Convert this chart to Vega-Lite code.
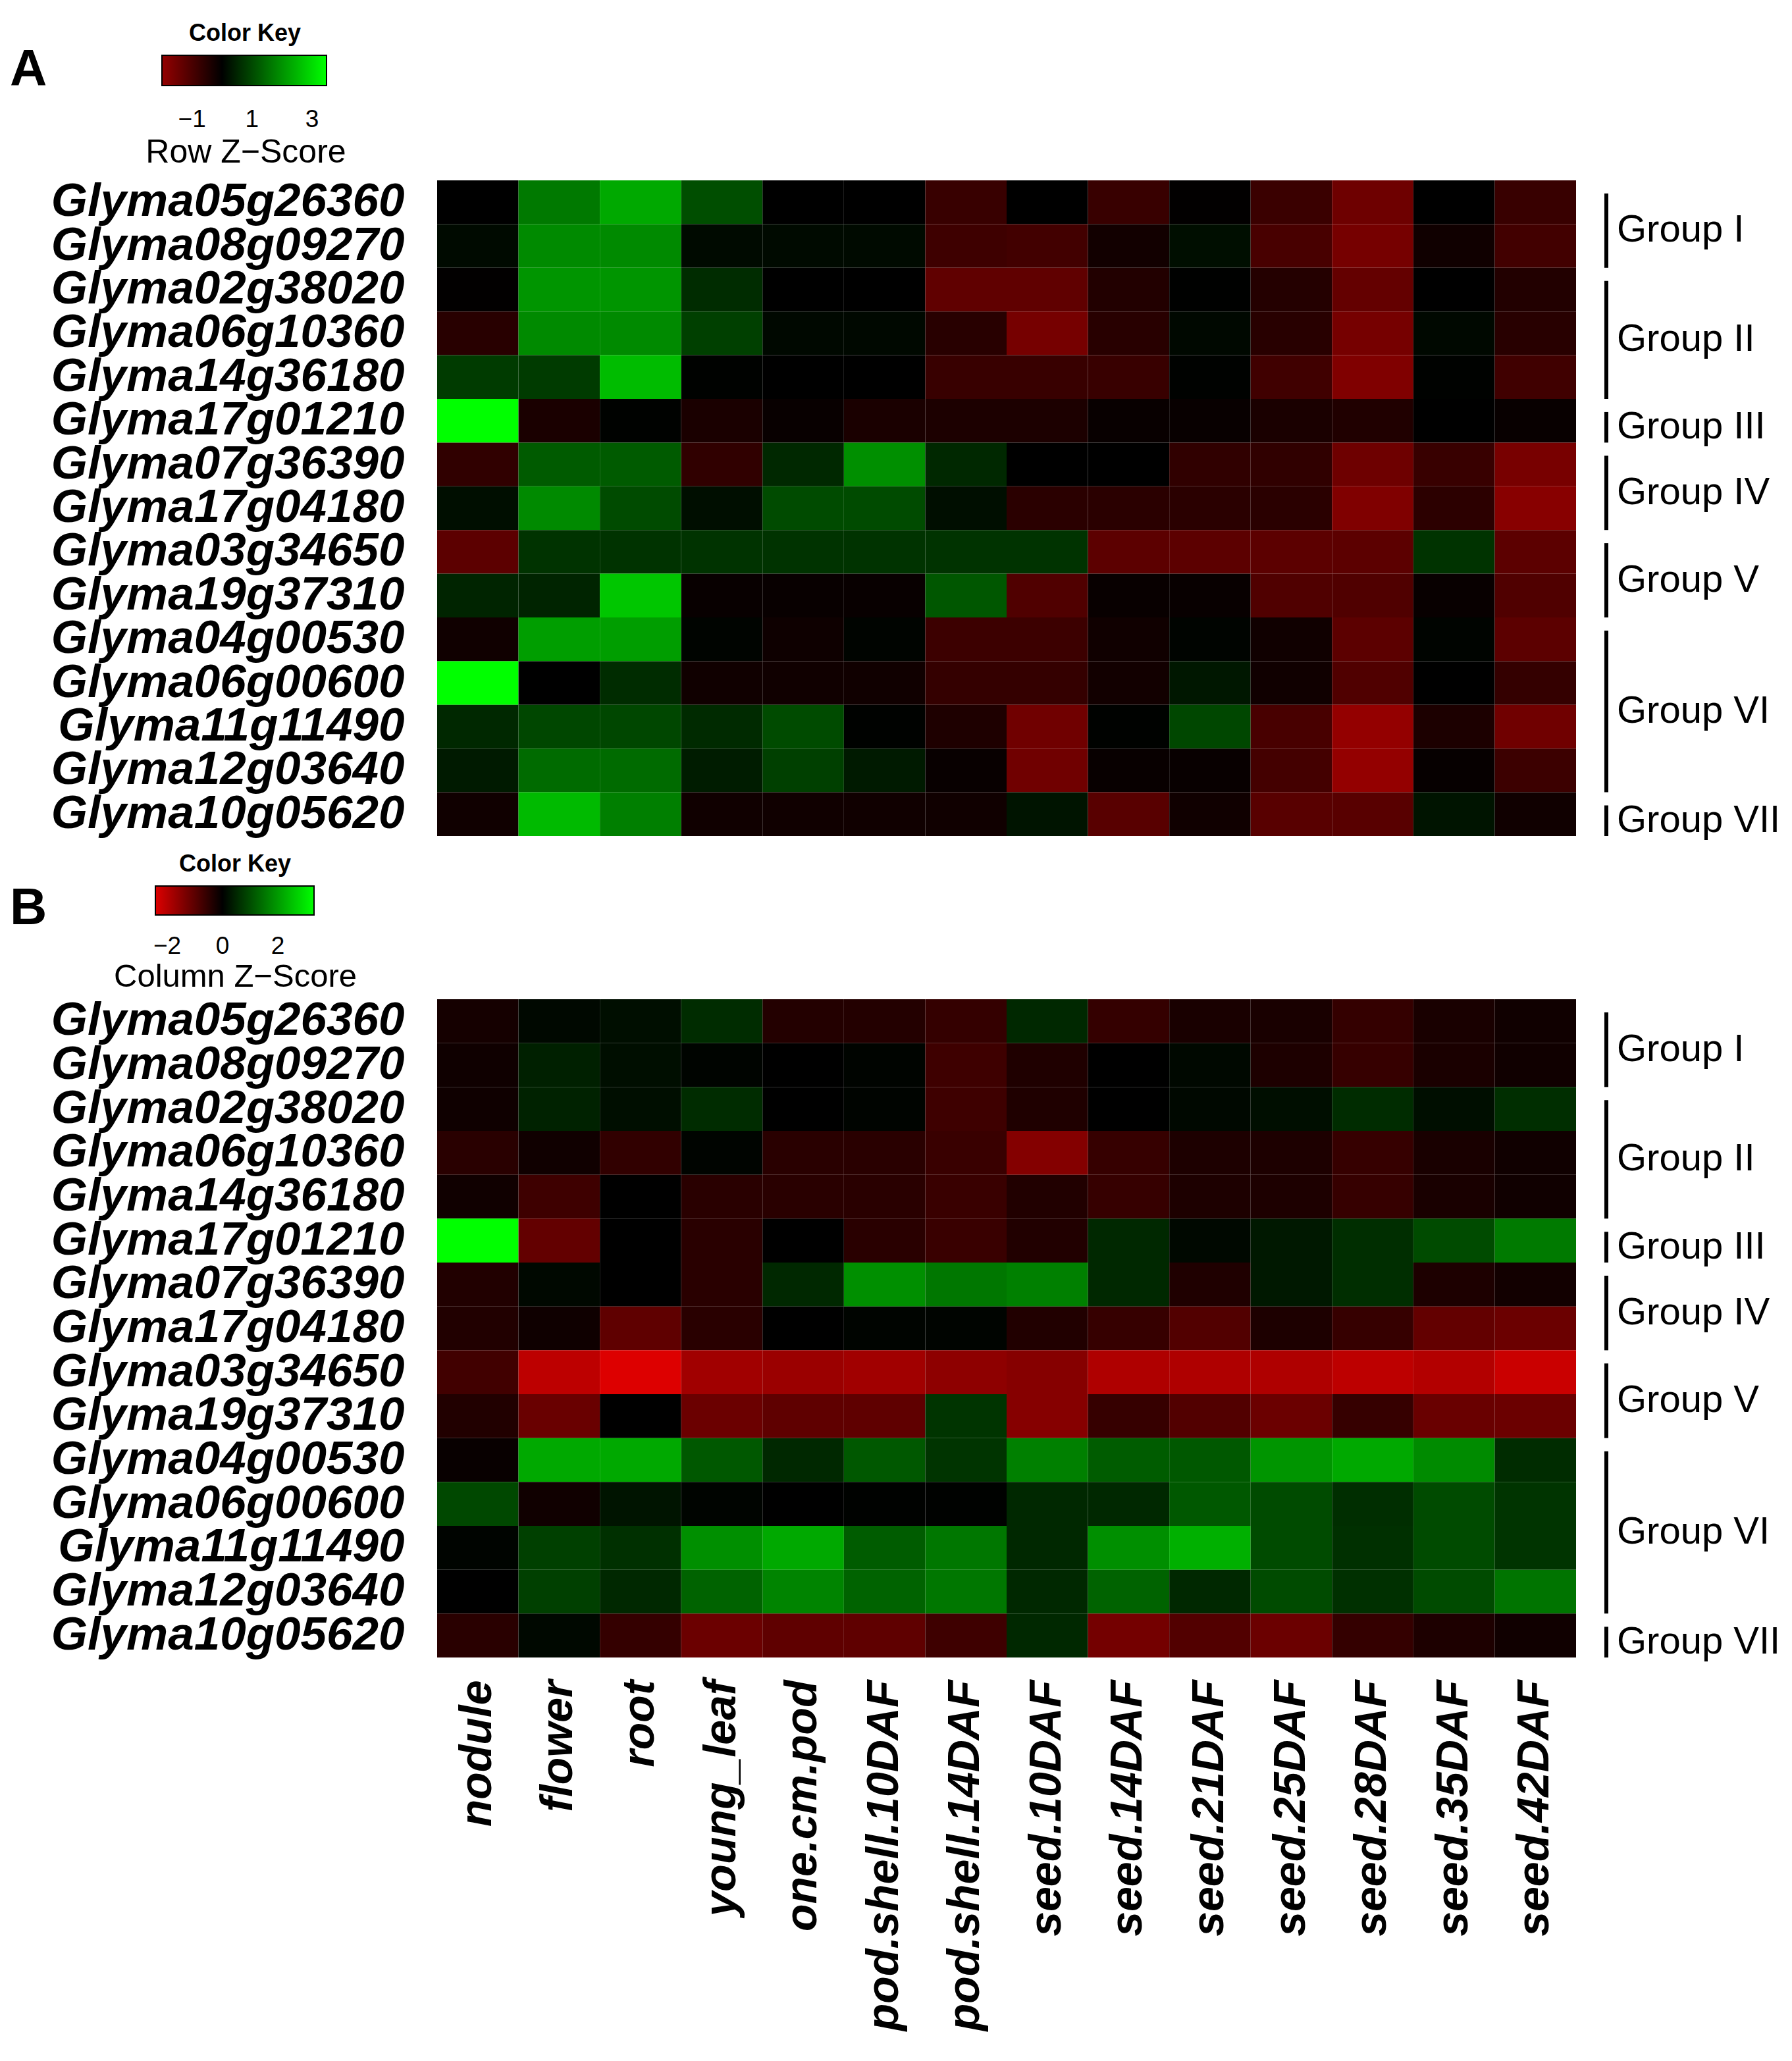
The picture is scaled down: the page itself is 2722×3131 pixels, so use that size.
{
  "$schema": "https://vega.github.io/schema/vega-lite/v6.json",
  "background": "white",
  "padding": {"left": 15, "top": 34, "right": 10, "bottom": 20},
  "config": {"view": {"stroke": null}, "font": "Liberation Sans"},
  "datasets": {
    "groups": [
      {"group": "Group I", "first": "Glyma05g26360", "last": "Glyma08g09270", "midGene": "Glyma05g26360", "rows": 2},
      {"group": "Group II", "first": "Glyma02g38020", "last": "Glyma14g36180", "midGene": "Glyma06g10360", "rows": 3},
      {"group": "Group III", "first": "Glyma17g01210", "last": "Glyma17g01210", "midGene": "Glyma17g01210", "rows": 1},
      {"group": "Group IV", "first": "Glyma07g36390", "last": "Glyma17g04180", "midGene": "Glyma07g36390", "rows": 2},
      {"group": "Group V", "first": "Glyma03g34650", "last": "Glyma19g37310", "midGene": "Glyma03g34650", "rows": 2},
      {"group": "Group VI", "first": "Glyma04g00530", "last": "Glyma12g03640", "midGene": "Glyma06g00600", "rows": 4},
      {"group": "Group VII", "first": "Glyma10g05620", "last": "Glyma10g05620", "midGene": "Glyma10g05620", "rows": 1}
    ],
    "rowz": [
      {"gene":"Glyma05g26360","tissue":"nodule","z":0},{"gene":"Glyma05g26360","tissue":"flower","z":1.65},{"gene":"Glyma05g26360","tissue":"root","z":2.30},{"gene":"Glyma05g26360","tissue":"young_leaf","z":1.06},{"gene":"Glyma05g26360","tissue":"one.cm.pod","z":0},{"gene":"Glyma05g26360","tissue":"pod.shell.10DAF","z":0},{"gene":"Glyma05g26360","tissue":"pod.shell.14DAF","z":-0.76},{"gene":"Glyma05g26360","tissue":"seed.10DAF","z":0},{"gene":"Glyma05g26360","tissue":"seed.14DAF","z":-0.76},{"gene":"Glyma05g26360","tissue":"seed.21DAF","z":-0.03},{"gene":"Glyma05g26360","tissue":"seed.25DAF","z":-0.78},{"gene":"Glyma05g26360","tissue":"seed.28DAF","z":-1.49},{"gene":"Glyma05g26360","tissue":"seed.35DAF","z":0},{"gene":"Glyma05g26360","tissue":"seed.42DAF","z":-0.76},
      {"gene":"Glyma08g09270","tissue":"nodule","z":0.14},{"gene":"Glyma08g09270","tissue":"flower","z":1.89},{"gene":"Glyma08g09270","tissue":"root","z":1.89},{"gene":"Glyma08g09270","tissue":"young_leaf","z":0.14},{"gene":"Glyma08g09270","tissue":"one.cm.pod","z":0.14},{"gene":"Glyma08g09270","tissue":"pod.shell.10DAF","z":0.14},{"gene":"Glyma08g09270","tissue":"pod.shell.14DAF","z":-0.84},{"gene":"Glyma08g09270","tissue":"seed.10DAF","z":-0.89},{"gene":"Glyma08g09270","tissue":"seed.14DAF","z":-0.24},{"gene":"Glyma08g09270","tissue":"seed.21DAF","z":0.19},{"gene":"Glyma08g09270","tissue":"seed.25DAF","z":-0.97},{"gene":"Glyma08g09270","tissue":"seed.28DAF","z":-1.6},{"gene":"Glyma08g09270","tissue":"seed.35DAF","z":-0.22},{"gene":"Glyma08g09270","tissue":"seed.42DAF","z":-0.89},
      {"gene":"Glyma02g38020","tissue":"nodule","z":-0.03},{"gene":"Glyma02g38020","tissue":"flower","z":2.03},{"gene":"Glyma02g38020","tissue":"root","z":2.03},{"gene":"Glyma02g38020","tissue":"young_leaf","z":0.6},{"gene":"Glyma02g38020","tissue":"one.cm.pod","z":0},{"gene":"Glyma02g38020","tissue":"pod.shell.10DAF","z":0},{"gene":"Glyma02g38020","tissue":"pod.shell.14DAF","z":-1.3},{"gene":"Glyma02g38020","tissue":"seed.10DAF","z":-1.3},{"gene":"Glyma02g38020","tissue":"seed.14DAF","z":-0.46},{"gene":"Glyma02g38020","tissue":"seed.21DAF","z":0.02},{"gene":"Glyma02g38020","tissue":"seed.25DAF","z":-0.49},{"gene":"Glyma02g38020","tissue":"seed.28DAF","z":-1.35},{"gene":"Glyma02g38020","tissue":"seed.35DAF","z":0},{"gene":"Glyma02g38020","tissue":"seed.42DAF","z":-0.46},
      {"gene":"Glyma06g10360","tissue":"nodule","z":-0.54},{"gene":"Glyma06g10360","tissue":"flower","z":1.89},{"gene":"Glyma06g10360","tissue":"root","z":1.89},{"gene":"Glyma06g10360","tissue":"young_leaf","z":0.87},{"gene":"Glyma06g10360","tissue":"one.cm.pod","z":0.11},{"gene":"Glyma06g10360","tissue":"pod.shell.10DAF","z":0.11},{"gene":"Glyma06g10360","tissue":"pod.shell.14DAF","z":-0.54},{"gene":"Glyma06g10360","tissue":"seed.10DAF","z":-1.6},{"gene":"Glyma06g10360","tissue":"seed.14DAF","z":-0.54},{"gene":"Glyma06g10360","tissue":"seed.21DAF","z":0.11},{"gene":"Glyma06g10360","tissue":"seed.25DAF","z":-0.54},{"gene":"Glyma06g10360","tissue":"seed.28DAF","z":-1.6},{"gene":"Glyma06g10360","tissue":"seed.35DAF","z":0.11},{"gene":"Glyma06g10360","tissue":"seed.42DAF","z":-0.54},
      {"gene":"Glyma14g36180","tissue":"nodule","z":0.81},{"gene":"Glyma14g36180","tissue":"flower","z":0.81},{"gene":"Glyma14g36180","tissue":"root","z":2.57},{"gene":"Glyma14g36180","tissue":"young_leaf","z":0.03},{"gene":"Glyma14g36180","tissue":"one.cm.pod","z":0},{"gene":"Glyma14g36180","tissue":"pod.shell.10DAF","z":0},{"gene":"Glyma14g36180","tissue":"pod.shell.14DAF","z":-0.76},{"gene":"Glyma14g36180","tissue":"seed.10DAF","z":-0.76},{"gene":"Glyma14g36180","tissue":"seed.14DAF","z":-0.76},{"gene":"Glyma14g36180","tissue":"seed.21DAF","z":0.03},{"gene":"Glyma14g36180","tissue":"seed.25DAF","z":-0.87},{"gene":"Glyma14g36180","tissue":"seed.28DAF","z":-1.73},{"gene":"Glyma14g36180","tissue":"seed.35DAF","z":0.03},{"gene":"Glyma14g36180","tissue":"seed.42DAF","z":-0.87},
      {"gene":"Glyma17g01210","tissue":"nodule","z":3.48},{"gene":"Glyma17g01210","tissue":"flower","z":-0.35},{"gene":"Glyma17g01210","tissue":"root","z":0.03},{"gene":"Glyma17g01210","tissue":"young_leaf","z":-0.35},{"gene":"Glyma17g01210","tissue":"one.cm.pod","z":-0.11},{"gene":"Glyma17g01210","tissue":"pod.shell.10DAF","z":-0.35},{"gene":"Glyma17g01210","tissue":"pod.shell.14DAF","z":-0.38},{"gene":"Glyma17g01210","tissue":"seed.10DAF","z":-0.38},{"gene":"Glyma17g01210","tissue":"seed.14DAF","z":-0.11},{"gene":"Glyma17g01210","tissue":"seed.21DAF","z":-0.11},{"gene":"Glyma17g01210","tissue":"seed.25DAF","z":-0.35},{"gene":"Glyma17g01210","tissue":"seed.28DAF","z":-0.43},{"gene":"Glyma17g01210","tissue":"seed.35DAF","z":0},{"gene":"Glyma17g01210","tissue":"seed.42DAF","z":-0.11},
      {"gene":"Glyma07g36390","tissue":"nodule","z":-0.65},{"gene":"Glyma07g36390","tissue":"flower","z":1.24},{"gene":"Glyma07g36390","tissue":"root","z":1.24},{"gene":"Glyma07g36390","tissue":"young_leaf","z":-0.65},{"gene":"Glyma07g36390","tissue":"one.cm.pod","z":0.54},{"gene":"Glyma07g36390","tissue":"pod.shell.10DAF","z":1.95},{"gene":"Glyma07g36390","tissue":"pod.shell.14DAF","z":0.54},{"gene":"Glyma07g36390","tissue":"seed.10DAF","z":0},{"gene":"Glyma07g36390","tissue":"seed.14DAF","z":0},{"gene":"Glyma07g36390","tissue":"seed.21DAF","z":-0.65},{"gene":"Glyma07g36390","tissue":"seed.25DAF","z":-0.65},{"gene":"Glyma07g36390","tissue":"seed.28DAF","z":-1.49},{"gene":"Glyma07g36390","tissue":"seed.35DAF","z":-0.76},{"gene":"Glyma07g36390","tissue":"seed.42DAF","z":-1.62},
      {"gene":"Glyma17g04180","tissue":"nodule","z":0.19},{"gene":"Glyma17g04180","tissue":"flower","z":1.89},{"gene":"Glyma17g04180","tissue":"root","z":1.03},{"gene":"Glyma17g04180","tissue":"young_leaf","z":0.19},{"gene":"Glyma17g04180","tissue":"one.cm.pod","z":1.03},{"gene":"Glyma17g04180","tissue":"pod.shell.10DAF","z":1.03},{"gene":"Glyma17g04180","tissue":"pod.shell.14DAF","z":0.19},{"gene":"Glyma17g04180","tissue":"seed.10DAF","z":-0.57},{"gene":"Glyma17g04180","tissue":"seed.14DAF","z":-0.57},{"gene":"Glyma17g04180","tissue":"seed.21DAF","z":-0.57},{"gene":"Glyma17g04180","tissue":"seed.25DAF","z":-0.57},{"gene":"Glyma17g04180","tissue":"seed.28DAF","z":-1.73},{"gene":"Glyma17g04180","tissue":"seed.35DAF","z":-0.59},{"gene":"Glyma17g04180","tissue":"seed.42DAF","z":-1.84},
      {"gene":"Glyma03g34650","tissue":"nodule","z":-1.24},{"gene":"Glyma03g34650","tissue":"flower","z":0.70},{"gene":"Glyma03g34650","tissue":"root","z":0.70},{"gene":"Glyma03g34650","tissue":"young_leaf","z":0.70},{"gene":"Glyma03g34650","tissue":"one.cm.pod","z":0.70},{"gene":"Glyma03g34650","tissue":"pod.shell.10DAF","z":0.70},{"gene":"Glyma03g34650","tissue":"pod.shell.14DAF","z":0.70},{"gene":"Glyma03g34650","tissue":"seed.10DAF","z":0.70},{"gene":"Glyma03g34650","tissue":"seed.14DAF","z":-1.24},{"gene":"Glyma03g34650","tissue":"seed.21DAF","z":-1.24},{"gene":"Glyma03g34650","tissue":"seed.25DAF","z":-1.24},{"gene":"Glyma03g34650","tissue":"seed.28DAF","z":-1.24},{"gene":"Glyma03g34650","tissue":"seed.35DAF","z":0.70},{"gene":"Glyma03g34650","tissue":"seed.42DAF","z":-1.24},
      {"gene":"Glyma19g37310","tissue":"nodule","z":0.49},{"gene":"Glyma19g37310","tissue":"flower","z":0.49},{"gene":"Glyma19g37310","tissue":"root","z":2.7},{"gene":"Glyma19g37310","tissue":"young_leaf","z":-0.11},{"gene":"Glyma19g37310","tissue":"one.cm.pod","z":-0.11},{"gene":"Glyma19g37310","tissue":"pod.shell.10DAF","z":-0.11},{"gene":"Glyma19g37310","tissue":"pod.shell.14DAF","z":1.19},{"gene":"Glyma19g37310","tissue":"seed.10DAF","z":-1.08},{"gene":"Glyma19g37310","tissue":"seed.14DAF","z":-0.11},{"gene":"Glyma19g37310","tissue":"seed.21DAF","z":-0.11},{"gene":"Glyma19g37310","tissue":"seed.25DAF","z":-1.08},{"gene":"Glyma19g37310","tissue":"seed.28DAF","z":-1.08},{"gene":"Glyma19g37310","tissue":"seed.35DAF","z":-0.11},{"gene":"Glyma19g37310","tissue":"seed.42DAF","z":-1.08},
      {"gene":"Glyma04g00530","tissue":"nodule","z":-0.22},{"gene":"Glyma04g00530","tissue":"flower","z":2.16},{"gene":"Glyma04g00530","tissue":"root","z":2.16},{"gene":"Glyma04g00530","tissue":"young_leaf","z":0.05},{"gene":"Glyma04g00530","tissue":"one.cm.pod","z":-0.19},{"gene":"Glyma04g00530","tissue":"pod.shell.10DAF","z":0.05},{"gene":"Glyma04g00530","tissue":"pod.shell.14DAF","z":-0.81},{"gene":"Glyma04g00530","tissue":"seed.10DAF","z":-0.81},{"gene":"Glyma04g00530","tissue":"seed.14DAF","z":-0.22},{"gene":"Glyma04g00530","tissue":"seed.21DAF","z":0.05},{"gene":"Glyma04g00530","tissue":"seed.25DAF","z":-0.22},{"gene":"Glyma04g00530","tissue":"seed.28DAF","z":-1.24},{"gene":"Glyma04g00530","tissue":"seed.35DAF","z":0.05},{"gene":"Glyma04g00530","tissue":"seed.42DAF","z":-1.24},
      {"gene":"Glyma06g00600","tissue":"nodule","z":3.48},{"gene":"Glyma06g00600","tissue":"flower","z":0},{"gene":"Glyma06g00600","tissue":"root","z":0.6},{"gene":"Glyma06g00600","tissue":"young_leaf","z":-0.22},{"gene":"Glyma06g00600","tissue":"one.cm.pod","z":-0.22},{"gene":"Glyma06g00600","tissue":"pod.shell.10DAF","z":-0.22},{"gene":"Glyma06g00600","tissue":"pod.shell.14DAF","z":-0.70},{"gene":"Glyma06g00600","tissue":"seed.10DAF","z":-0.70},{"gene":"Glyma06g00600","tissue":"seed.14DAF","z":-0.24},{"gene":"Glyma06g00600","tissue":"seed.21DAF","z":0.32},{"gene":"Glyma06g00600","tissue":"seed.25DAF","z":-0.22},{"gene":"Glyma06g00600","tissue":"seed.28DAF","z":-1.08},{"gene":"Glyma06g00600","tissue":"seed.35DAF","z":0},{"gene":"Glyma06g00600","tissue":"seed.42DAF","z":-0.70},
      {"gene":"Glyma11g11490","tissue":"nodule","z":0.54},{"gene":"Glyma11g11490","tissue":"flower","z":0.97},{"gene":"Glyma11g11490","tissue":"root","z":0.97},{"gene":"Glyma11g11490","tissue":"young_leaf","z":0.57},{"gene":"Glyma11g11490","tissue":"one.cm.pod","z":1.03},{"gene":"Glyma11g11490","tissue":"pod.shell.10DAF","z":0.03},{"gene":"Glyma11g11490","tissue":"pod.shell.14DAF","z":-0.41},{"gene":"Glyma11g11490","tissue":"seed.10DAF","z":-1.51},{"gene":"Glyma11g11490","tissue":"seed.14DAF","z":0.03},{"gene":"Glyma11g11490","tissue":"seed.21DAF","z":0.97},{"gene":"Glyma11g11490","tissue":"seed.25DAF","z":-0.97},{"gene":"Glyma11g11490","tissue":"seed.28DAF","z":-2.16},{"gene":"Glyma11g11490","tissue":"seed.35DAF","z":-0.38},{"gene":"Glyma11g11490","tissue":"seed.42DAF","z":-1.51},
      {"gene":"Glyma12g03640","tissue":"nodule","z":0.35},{"gene":"Glyma12g03640","tissue":"flower","z":1.46},{"gene":"Glyma12g03640","tissue":"root","z":1.46},{"gene":"Glyma12g03640","tissue":"young_leaf","z":0.38},{"gene":"Glyma12g03640","tissue":"one.cm.pod","z":0.87},{"gene":"Glyma12g03640","tissue":"pod.shell.10DAF","z":0.35},{"gene":"Glyma12g03640","tissue":"pod.shell.14DAF","z":-0.11},{"gene":"Glyma12g03640","tissue":"seed.10DAF","z":-1.51},{"gene":"Glyma12g03640","tissue":"seed.14DAF","z":-0.11},{"gene":"Glyma12g03640","tissue":"seed.21DAF","z":-0.11},{"gene":"Glyma12g03640","tissue":"seed.25DAF","z":-0.92},{"gene":"Glyma12g03640","tissue":"seed.28DAF","z":-2.27},{"gene":"Glyma12g03640","tissue":"seed.35DAF","z":-0.08},{"gene":"Glyma12g03640","tissue":"seed.42DAF","z":-0.81},
      {"gene":"Glyma10g05620","tissue":"nodule","z":-0.22},{"gene":"Glyma10g05620","tissue":"flower","z":2.54},{"gene":"Glyma10g05620","tissue":"root","z":1.73},{"gene":"Glyma10g05620","tissue":"young_leaf","z":-0.22},{"gene":"Glyma10g05620","tissue":"one.cm.pod","z":-0.22},{"gene":"Glyma10g05620","tissue":"pod.shell.10DAF","z":-0.22},{"gene":"Glyma10g05620","tissue":"pod.shell.14DAF","z":-0.22},{"gene":"Glyma10g05620","tissue":"seed.10DAF","z":0.27},{"gene":"Glyma10g05620","tissue":"seed.14DAF","z":-1.19},{"gene":"Glyma10g05620","tissue":"seed.21DAF","z":-0.22},{"gene":"Glyma10g05620","tissue":"seed.25DAF","z":-1.19},{"gene":"Glyma10g05620","tissue":"seed.28DAF","z":-1.19},{"gene":"Glyma10g05620","tissue":"seed.35DAF","z":0.27},{"gene":"Glyma10g05620","tissue":"seed.42DAF","z":-0.22}
    ],
    "colz": [
      {"gene":"Glyma05g26360","tissue":"nodule","z":-0.23},{"gene":"Glyma05g26360","tissue":"flower","z":0.10},{"gene":"Glyma05g26360","tissue":"root","z":0.18},{"gene":"Glyma05g26360","tissue":"young_leaf","z":0.57},{"gene":"Glyma05g26360","tissue":"one.cm.pod","z":-0.38},{"gene":"Glyma05g26360","tissue":"pod.shell.10DAF","z":-0.38},{"gene":"Glyma05g26360","tissue":"pod.shell.14DAF","z":-0.57},{"gene":"Glyma05g26360","tissue":"seed.10DAF","z":0.52},{"gene":"Glyma05g26360","tissue":"seed.14DAF","z":-0.57},{"gene":"Glyma05g26360","tissue":"seed.21DAF","z":-0.27},{"gene":"Glyma05g26360","tissue":"seed.25DAF","z":-0.27},{"gene":"Glyma05g26360","tissue":"seed.28DAF","z":-0.57},{"gene":"Glyma05g26360","tissue":"seed.35DAF","z":-0.27},{"gene":"Glyma05g26360","tissue":"seed.42DAF","z":-0.18},
      {"gene":"Glyma08g09270","tissue":"nodule","z":-0.16},{"gene":"Glyma08g09270","tissue":"flower","z":0.41},{"gene":"Glyma08g09270","tissue":"root","z":0.18},{"gene":"Glyma08g09270","tissue":"young_leaf","z":0.05},{"gene":"Glyma08g09270","tissue":"one.cm.pod","z":0},{"gene":"Glyma08g09270","tissue":"pod.shell.10DAF","z":0.05},{"gene":"Glyma08g09270","tissue":"pod.shell.14DAF","z":-0.68},{"gene":"Glyma08g09270","tissue":"seed.10DAF","z":-0.34},{"gene":"Glyma08g09270","tissue":"seed.14DAF","z":0},{"gene":"Glyma08g09270","tissue":"seed.21DAF","z":0.10},{"gene":"Glyma08g09270","tissue":"seed.25DAF","z":-0.32},{"gene":"Glyma08g09270","tissue":"seed.28DAF","z":-0.59},{"gene":"Glyma08g09270","tissue":"seed.35DAF","z":-0.29},{"gene":"Glyma08g09270","tissue":"seed.42DAF","z":-0.18},
      {"gene":"Glyma02g38020","tissue":"nodule","z":-0.16},{"gene":"Glyma02g38020","tissue":"flower","z":0.44},{"gene":"Glyma02g38020","tissue":"root","z":0.18},{"gene":"Glyma02g38020","tissue":"young_leaf","z":0.57},{"gene":"Glyma02g38020","tissue":"one.cm.pod","z":0},{"gene":"Glyma02g38020","tissue":"pod.shell.10DAF","z":0.05},{"gene":"Glyma02g38020","tissue":"pod.shell.14DAF","z":-0.68},{"gene":"Glyma02g38020","tissue":"seed.10DAF","z":-0.34},{"gene":"Glyma02g38020","tissue":"seed.14DAF","z":0},{"gene":"Glyma02g38020","tissue":"seed.21DAF","z":0.10},{"gene":"Glyma02g38020","tissue":"seed.25DAF","z":0.18},{"gene":"Glyma02g38020","tissue":"seed.28DAF","z":0.57},{"gene":"Glyma02g38020","tissue":"seed.35DAF","z":0.18},{"gene":"Glyma02g38020","tissue":"seed.42DAF","z":0.60},
      {"gene":"Glyma06g10360","tissue":"nodule","z":-0.45},{"gene":"Glyma06g10360","tissue":"flower","z":-0.18},{"gene":"Glyma06g10360","tissue":"root","z":-0.54},{"gene":"Glyma06g10360","tissue":"young_leaf","z":0.05},{"gene":"Glyma06g10360","tissue":"one.cm.pod","z":-0.45},{"gene":"Glyma06g10360","tissue":"pod.shell.10DAF","z":-0.45},{"gene":"Glyma06g10360","tissue":"pod.shell.14DAF","z":-0.63},{"gene":"Glyma06g10360","tissue":"seed.10DAF","z":-1.45},{"gene":"Glyma06g10360","tissue":"seed.14DAF","z":-0.59},{"gene":"Glyma06g10360","tissue":"seed.21DAF","z":-0.32},{"gene":"Glyma06g10360","tissue":"seed.25DAF","z":-0.32},{"gene":"Glyma06g10360","tissue":"seed.28DAF","z":-0.59},{"gene":"Glyma06g10360","tissue":"seed.35DAF","z":-0.27},{"gene":"Glyma06g10360","tissue":"seed.42DAF","z":-0.18},
      {"gene":"Glyma14g36180","tissue":"nodule","z":-0.18},{"gene":"Glyma14g36180","tissue":"flower","z":-0.68},{"gene":"Glyma14g36180","tissue":"root","z":0},{"gene":"Glyma14g36180","tissue":"young_leaf","z":-0.45},{"gene":"Glyma14g36180","tissue":"one.cm.pod","z":-0.45},{"gene":"Glyma14g36180","tissue":"pod.shell.10DAF","z":-0.45},{"gene":"Glyma14g36180","tissue":"pod.shell.14DAF","z":-0.63},{"gene":"Glyma14g36180","tissue":"seed.10DAF","z":-0.36},{"gene":"Glyma14g36180","tissue":"seed.14DAF","z":-0.59},{"gene":"Glyma14g36180","tissue":"seed.21DAF","z":-0.32},{"gene":"Glyma14g36180","tissue":"seed.25DAF","z":-0.32},{"gene":"Glyma14g36180","tissue":"seed.28DAF","z":-0.59},{"gene":"Glyma14g36180","tissue":"seed.35DAF","z":-0.27},{"gene":"Glyma14g36180","tissue":"seed.42DAF","z":-0.18},
      {"gene":"Glyma17g01210","tissue":"nodule","z":3.31},{"gene":"Glyma17g01210","tissue":"flower","z":-1.09},{"gene":"Glyma17g01210","tissue":"root","z":0},{"gene":"Glyma17g01210","tissue":"young_leaf","z":-0.45},{"gene":"Glyma17g01210","tissue":"one.cm.pod","z":0},{"gene":"Glyma17g01210","tissue":"pod.shell.10DAF","z":-0.45},{"gene":"Glyma17g01210","tissue":"pod.shell.14DAF","z":-0.63},{"gene":"Glyma17g01210","tissue":"seed.10DAF","z":-0.36},{"gene":"Glyma17g01210","tissue":"seed.14DAF","z":0.52},{"gene":"Glyma17g01210","tissue":"seed.21DAF","z":0.10},{"gene":"Glyma17g01210","tissue":"seed.25DAF","z":0.31},{"gene":"Glyma17g01210","tissue":"seed.28DAF","z":0.60},{"gene":"Glyma17g01210","tissue":"seed.35DAF","z":0.98},{"gene":"Glyma17g01210","tissue":"seed.42DAF","z":1.58},
      {"gene":"Glyma07g36390","tissue":"nodule","z":-0.36},{"gene":"Glyma07g36390","tissue":"flower","z":0.10},{"gene":"Glyma07g36390","tissue":"root","z":0},{"gene":"Glyma07g36390","tissue":"young_leaf","z":-0.45},{"gene":"Glyma07g36390","tissue":"one.cm.pod","z":0.52},{"gene":"Glyma07g36390","tissue":"pod.shell.10DAF","z":1.86},{"gene":"Glyma07g36390","tissue":"pod.shell.14DAF","z":1.55},{"gene":"Glyma07g36390","tissue":"seed.10DAF","z":1.66},{"gene":"Glyma07g36390","tissue":"seed.14DAF","z":0.52},{"gene":"Glyma07g36390","tissue":"seed.21DAF","z":-0.34},{"gene":"Glyma07g36390","tissue":"seed.25DAF","z":0.31},{"gene":"Glyma07g36390","tissue":"seed.28DAF","z":0.60},{"gene":"Glyma07g36390","tissue":"seed.35DAF","z":-0.32},{"gene":"Glyma07g36390","tissue":"seed.42DAF","z":-0.20},
      {"gene":"Glyma17g04180","tissue":"nodule","z":-0.36},{"gene":"Glyma17g04180","tissue":"flower","z":-0.16},{"gene":"Glyma17g04180","tissue":"root","z":-1.04},{"gene":"Glyma17g04180","tissue":"young_leaf","z":-0.45},{"gene":"Glyma17g04180","tissue":"one.cm.pod","z":0},{"gene":"Glyma17g04180","tissue":"pod.shell.10DAF","z":0.05},{"gene":"Glyma17g04180","tissue":"pod.shell.14DAF","z":0.05},{"gene":"Glyma17g04180","tissue":"seed.10DAF","z":-0.36},{"gene":"Glyma17g04180","tissue":"seed.14DAF","z":-0.59},{"gene":"Glyma17g04180","tissue":"seed.21DAF","z":-0.90},{"gene":"Glyma17g04180","tissue":"seed.25DAF","z":-0.32},{"gene":"Glyma17g04180","tissue":"seed.28DAF","z":-0.59},{"gene":"Glyma17g04180","tissue":"seed.35DAF","z":-1.09},{"gene":"Glyma17g04180","tissue":"seed.42DAF","z":-1.18},
      {"gene":"Glyma03g34650","tissue":"nodule","z":-0.72},{"gene":"Glyma03g34650","tissue":"flower","z":-2.08},{"gene":"Glyma03g34650","tissue":"root","z":-2.43},{"gene":"Glyma03g34650","tissue":"young_leaf","z":-1.77},{"gene":"Glyma03g34650","tissue":"one.cm.pod","z":-1.70},{"gene":"Glyma03g34650","tissue":"pod.shell.10DAF","z":-1.77},{"gene":"Glyma03g34650","tissue":"pod.shell.14DAF","z":-1.56},{"gene":"Glyma03g34650","tissue":"seed.10DAF","z":-1.47},{"gene":"Glyma03g34650","tissue":"seed.14DAF","z":-1.92},{"gene":"Glyma03g34650","tissue":"seed.21DAF","z":-1.92},{"gene":"Glyma03g34650","tissue":"seed.25DAF","z":-1.92},{"gene":"Glyma03g34650","tissue":"seed.28DAF","z":-2.08},{"gene":"Glyma03g34650","tissue":"seed.35DAF","z":-1.97},{"gene":"Glyma03g34650","tissue":"seed.42DAF","z":-2.22},
      {"gene":"Glyma19g37310","tissue":"nodule","z":-0.36},{"gene":"Glyma19g37310","tissue":"flower","z":-1.15},{"gene":"Glyma19g37310","tissue":"root","z":0},{"gene":"Glyma19g37310","tissue":"young_leaf","z":-1.18},{"gene":"Glyma19g37310","tissue":"one.cm.pod","z":-1.04},{"gene":"Glyma19g37310","tissue":"pod.shell.10DAF","z":-1.04},{"gene":"Glyma19g37310","tissue":"pod.shell.14DAF","z":0.67},{"gene":"Glyma19g37310","tissue":"seed.10DAF","z":-1.47},{"gene":"Glyma19g37310","tissue":"seed.14DAF","z":-0.59},{"gene":"Glyma19g37310","tissue":"seed.21DAF","z":-0.90},{"gene":"Glyma19g37310","tissue":"seed.25DAF","z":-1.18},{"gene":"Glyma19g37310","tissue":"seed.28DAF","z":-0.59},{"gene":"Glyma19g37310","tissue":"seed.35DAF","z":-1.15},{"gene":"Glyma19g37310","tissue":"seed.42DAF","z":-1.18},
      {"gene":"Glyma04g00530","tissue":"nodule","z":-0.09},{"gene":"Glyma04g00530","tissue":"flower","z":2.2},{"gene":"Glyma04g00530","tissue":"root","z":2.2},{"gene":"Glyma04g00530","tissue":"young_leaf","z":1.14},{"gene":"Glyma04g00530","tissue":"one.cm.pod","z":0.52},{"gene":"Glyma04g00530","tissue":"pod.shell.10DAF","z":1.14},{"gene":"Glyma04g00530","tissue":"pod.shell.14DAF","z":0.67},{"gene":"Glyma04g00530","tissue":"seed.10DAF","z":1.66},{"gene":"Glyma04g00530","tissue":"seed.14DAF","z":1.19},{"gene":"Glyma04g00530","tissue":"seed.21DAF","z":1.14},{"gene":"Glyma04g00530","tissue":"seed.25DAF","z":1.94},{"gene":"Glyma04g00530","tissue":"seed.28DAF","z":2.2},{"gene":"Glyma04g00530","tissue":"seed.35DAF","z":1.81},{"gene":"Glyma04g00530","tissue":"seed.42DAF","z":0.57},
      {"gene":"Glyma06g00600","tissue":"nodule","z":0.93},{"gene":"Glyma06g00600","tissue":"flower","z":-0.18},{"gene":"Glyma06g00600","tissue":"root","z":0.26},{"gene":"Glyma06g00600","tissue":"young_leaf","z":0.05},{"gene":"Glyma06g00600","tissue":"one.cm.pod","z":0},{"gene":"Glyma06g00600","tissue":"pod.shell.10DAF","z":0.03},{"gene":"Glyma06g00600","tissue":"pod.shell.14DAF","z":0.03},{"gene":"Glyma06g00600","tissue":"seed.10DAF","z":0.52},{"gene":"Glyma06g00600","tissue":"seed.14DAF","z":0.52},{"gene":"Glyma06g00600","tissue":"seed.21DAF","z":1.14},{"gene":"Glyma06g00600","tissue":"seed.25DAF","z":0.98},{"gene":"Glyma06g00600","tissue":"seed.28DAF","z":0.60},{"gene":"Glyma06g00600","tissue":"seed.35DAF","z":0.98},{"gene":"Glyma06g00600","tissue":"seed.42DAF","z":0.67},
      {"gene":"Glyma11g11490","tissue":"nodule","z":0.05},{"gene":"Glyma11g11490","tissue":"flower","z":0.83},{"gene":"Glyma11g11490","tissue":"root","z":0.62},{"gene":"Glyma11g11490","tissue":"young_leaf","z":1.86},{"gene":"Glyma11g11490","tissue":"one.cm.pod","z":2.2},{"gene":"Glyma11g11490","tissue":"pod.shell.10DAF","z":1.19},{"gene":"Glyma11g11490","tissue":"pod.shell.14DAF","z":1.55},{"gene":"Glyma11g11490","tissue":"seed.10DAF","z":0.52},{"gene":"Glyma11g11490","tissue":"seed.14DAF","z":1.86},{"gene":"Glyma11g11490","tissue":"seed.21DAF","z":2.28},{"gene":"Glyma11g11490","tissue":"seed.25DAF","z":0.98},{"gene":"Glyma11g11490","tissue":"seed.28DAF","z":0.62},{"gene":"Glyma11g11490","tissue":"seed.35DAF","z":0.98},{"gene":"Glyma11g11490","tissue":"seed.42DAF","z":0.67},
      {"gene":"Glyma12g03640","tissue":"nodule","z":0},{"gene":"Glyma12g03640","tissue":"flower","z":0.83},{"gene":"Glyma12g03640","tissue":"root","z":0.52},{"gene":"Glyma12g03640","tissue":"young_leaf","z":1.29},{"gene":"Glyma12g03640","tissue":"one.cm.pod","z":1.71},{"gene":"Glyma12g03640","tissue":"pod.shell.10DAF","z":1.29},{"gene":"Glyma12g03640","tissue":"pod.shell.14DAF","z":1.55},{"gene":"Glyma12g03640","tissue":"seed.10DAF","z":0.52},{"gene":"Glyma12g03640","tissue":"seed.14DAF","z":1.29},{"gene":"Glyma12g03640","tissue":"seed.21DAF","z":0.52},{"gene":"Glyma12g03640","tissue":"seed.25DAF","z":0.98},{"gene":"Glyma12g03640","tissue":"seed.28DAF","z":0.62},{"gene":"Glyma12g03640","tissue":"seed.35DAF","z":0.98},{"gene":"Glyma12g03640","tissue":"seed.42DAF","z":1.50},
      {"gene":"Glyma10g05620","tissue":"nodule","z":-0.45},{"gene":"Glyma10g05620","tissue":"flower","z":0.10},{"gene":"Glyma10g05620","tissue":"root","z":-0.57},{"gene":"Glyma10g05620","tissue":"young_leaf","z":-1.18},{"gene":"Glyma10g05620","tissue":"one.cm.pod","z":-1.04},{"gene":"Glyma10g05620","tissue":"pod.shell.10DAF","z":-1.04},{"gene":"Glyma10g05620","tissue":"pod.shell.14DAF","z":-0.68},{"gene":"Glyma10g05620","tissue":"seed.10DAF","z":0.52},{"gene":"Glyma10g05620","tissue":"seed.14DAF","z":-1.27},{"gene":"Glyma10g05620","tissue":"seed.21DAF","z":-0.90},{"gene":"Glyma10g05620","tissue":"seed.25DAF","z":-1.18},{"gene":"Glyma10g05620","tissue":"seed.28DAF","z":-0.57},{"gene":"Glyma10g05620","tissue":"seed.35DAF","z":-0.32},{"gene":"Glyma10g05620","tissue":"seed.42DAF","z":-0.18}
    ]
  },
  "resolve": {"scale": {"x": "independent", "y": "independent", "color": "independent"}, "legend": {"color": "independent"}},
  "spacing": 20,
  "vconcat": [
    {
      "title": {"text": "A", "anchor": "start", "frame": "group", "fontSize": 78, "fontWeight": "bold", "font": "Liberation Sans", "color": "black", "dx": -649, "dy": 112, "offset": 0},
      "width": 1730,
      "height": 996,
      "layer": [
        {
          "data": {"name": "rowz"},
          "mark": {"type": "rect"},
          "encoding": {
            "x": {"field": "tissue", "type": "nominal", "axis": null,
              "scale": {"domain": ["nodule","flower","root","young_leaf","one.cm.pod","pod.shell.10DAF","pod.shell.14DAF","seed.10DAF","seed.14DAF","seed.21DAF","seed.25DAF","seed.28DAF","seed.35DAF","seed.42DAF"], "paddingInner": 0, "paddingOuter": 0}},
            "y": {"field": "gene", "type": "nominal",
              "scale": {"domain": ["Glyma05g26360","Glyma08g09270","Glyma02g38020","Glyma06g10360","Glyma14g36180","Glyma17g01210","Glyma07g36390","Glyma17g04180","Glyma03g34650","Glyma19g37310","Glyma04g00530","Glyma06g00600","Glyma11g11490","Glyma12g03640","Glyma10g05620"], "paddingInner": 0, "paddingOuter": 0},
              "axis": {"title": "Row Z−Score", "titleAngle": 0, "titleX": -291, "titleY": -43, "titleAlign": "center", "titleBaseline": "middle", "titleFontSize": 50, "titleFontWeight": "normal", "titleFont": "Liberation Sans", "titleColor": "black",
                "labelFont": "Liberation Sans", "labelFontSize": 71, "labelFontWeight": "bold", "labelFontStyle": "italic", "labelColor": "black", "labelPadding": 50, "ticks": false, "domain": false, "labelOverlap": false, "labelLimit": 0}},
            "color": {"field": "z", "type": "quantitative",
              "scale": {"domain": [-2.0, 0, 3.48], "range": ["#940000", "#000000", "#00ff00"], "interpolate": "rgb", "clamp": true},
              "legend": {"orient": "none", "legendX": -418, "legendY": -240, "direction": "horizontal", "title": "Color Key", "titleFontSize": 36, "titleFontWeight": "bold", "titleFont": "Liberation Sans", "titleColor": "black", "titleAnchor": "middle", "titlePadding": 14,
                "gradientLength": 250, "gradientThickness": 46, "gradientStrokeColor": "black", "gradientStrokeWidth": 2,
                "values": [-1, 1, 3], "labelFontSize": 37, "labelFont": "Liberation Sans", "labelColor": "black", "labelOffset": 34, "labelOverlap": false, "labelExpr": "replace(datum.label, '-', '−')"}}
          }
        },
        {
          "data": {"name": "groups"},
          "mark": {"type": "rule", "strokeWidth": 6, "color": "black", "xOffset": 46, "strokeCap": "butt"},
          "encoding": {
            "x": {"value": "width"},
            "y": {"field": "first", "type": "nominal", "bandPosition": 0.3},
            "y2": {"field": "last", "bandPosition": 1.0}
          }
        },
        {
          "data": {"name": "groups"},
          "transform": [{"filter": "datum.rows % 2 == 1"}],
          "mark": {"type": "text", "align": "left", "baseline": "middle", "fontSize": 58, "font": "Liberation Sans", "color": "black", "dx": 62, "dy": 10},
          "encoding": {
            "x": {"value": "width"},
            "y": {"field": "midGene", "type": "nominal", "bandPosition": 0.5},
            "text": {"field": "group"}
          }
        },
        {
          "data": {"name": "groups"},
          "transform": [{"filter": "datum.rows % 2 == 0"}],
          "mark": {"type": "text", "align": "left", "baseline": "middle", "fontSize": 58, "font": "Liberation Sans", "color": "black", "dx": 62, "dy": 10},
          "encoding": {
            "x": {"value": "width"},
            "y": {"field": "midGene", "type": "nominal", "bandPosition": 1.0},
            "text": {"field": "group"}
          }
        }
      ]
    },
    {
      "title": {"text": "B", "anchor": "start", "frame": "group", "fontSize": 78, "fontWeight": "bold", "font": "Liberation Sans", "color": "black", "dx": -649, "dy": 124, "offset": 0},
      "width": 1730,
      "height": 1000,
      "layer": [
        {
          "data": {"name": "colz"},
          "mark": {"type": "rect"},
          "encoding": {
            "x": {"field": "tissue", "type": "nominal",
              "scale": {"domain": ["nodule","flower","root","young_leaf","one.cm.pod","pod.shell.10DAF","pod.shell.14DAF","seed.10DAF","seed.14DAF","seed.21DAF","seed.25DAF","seed.28DAF","seed.35DAF","seed.42DAF"], "paddingInner": 0, "paddingOuter": 0},
              "axis": {"title": null, "orient": "bottom", "labelAngle": 270, "labelFont": "Liberation Sans", "labelFontSize": 68, "labelFontWeight": "bold", "labelFontStyle": "italic", "labelColor": "black", "labelPadding": 34, "ticks": false, "domain": false, "labelOverlap": false, "labelLimit": 0}},
            "y": {"field": "gene", "type": "nominal",
              "scale": {"domain": ["Glyma05g26360","Glyma08g09270","Glyma02g38020","Glyma06g10360","Glyma14g36180","Glyma17g01210","Glyma07g36390","Glyma17g04180","Glyma03g34650","Glyma19g37310","Glyma04g00530","Glyma06g00600","Glyma11g11490","Glyma12g03640","Glyma10g05620"], "paddingInner": 0, "paddingOuter": 0},
              "axis": {"title": "Column Z−Score", "titleAngle": 0, "titleX": -307, "titleY": -35, "titleAlign": "center", "titleBaseline": "middle", "titleFontSize": 49, "titleFontWeight": "normal", "titleFont": "Liberation Sans", "titleColor": "black",
                "labelFont": "Liberation Sans", "labelFontSize": 71, "labelFontWeight": "bold", "labelFontStyle": "italic", "labelColor": "black", "labelPadding": 50, "ticks": false, "domain": false, "labelOverlap": false, "labelLimit": 0}},
            "color": {"field": "z", "type": "quantitative",
              "scale": {"domain": [-2.43, 0, 3.31], "range": ["#dd0000", "#000000", "#00ff00"], "interpolate": "rgb", "clamp": true},
              "legend": {"orient": "none", "legendX": -428, "legendY": -222, "direction": "horizontal", "title": "Color Key", "titleFontSize": 36, "titleFontWeight": "bold", "titleFont": "Liberation Sans", "titleColor": "black", "titleAnchor": "middle", "titlePadding": 14,
                "gradientLength": 241, "gradientThickness": 44, "gradientStrokeColor": "black", "gradientStrokeWidth": 2,
                "values": [-2, 0, 2], "labelFontSize": 37, "labelFont": "Liberation Sans", "labelColor": "black", "labelOffset": 30, "labelOverlap": false, "labelExpr": "replace(datum.label, '-', '−')"}}
          }
        },
        {
          "data": {"name": "groups"},
          "mark": {"type": "rule", "strokeWidth": 6, "color": "black", "xOffset": 46, "strokeCap": "butt"},
          "encoding": {
            "x": {"value": "width"},
            "y": {"field": "first", "type": "nominal", "bandPosition": 0.3},
            "y2": {"field": "last", "bandPosition": 1.0}
          }
        },
        {
          "data": {"name": "groups"},
          "transform": [{"filter": "datum.rows % 2 == 1"}],
          "mark": {"type": "text", "align": "left", "baseline": "middle", "fontSize": 58, "font": "Liberation Sans", "color": "black", "dx": 62, "dy": 10},
          "encoding": {
            "x": {"value": "width"},
            "y": {"field": "midGene", "type": "nominal", "bandPosition": 0.5},
            "text": {"field": "group"}
          }
        },
        {
          "data": {"name": "groups"},
          "transform": [{"filter": "datum.rows % 2 == 0"}],
          "mark": {"type": "text", "align": "left", "baseline": "middle", "fontSize": 58, "font": "Liberation Sans", "color": "black", "dx": 62, "dy": 10},
          "encoding": {
            "x": {"value": "width"},
            "y": {"field": "midGene", "type": "nominal", "bandPosition": 1.0},
            "text": {"field": "group"}
          }
        }
      ]
    }
  ]
}
